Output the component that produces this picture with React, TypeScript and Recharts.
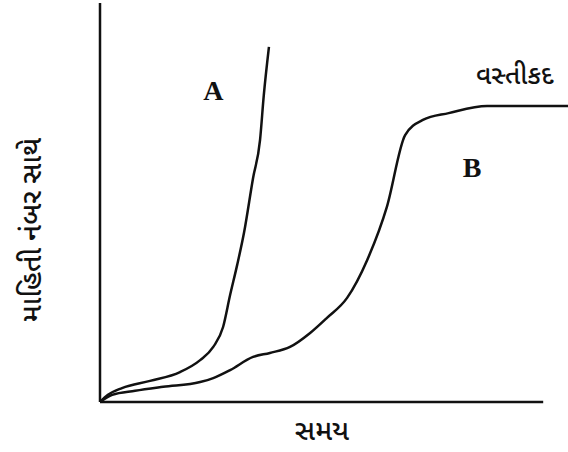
import React from 'react';
import { LineChart, Line, XAxis, YAxis, ReferenceLine, ReferenceDot, Customized } from 'recharts';

// Curve A: exponential (J-shaped) growth
const curveAX = [0, 1.7, 4.7, 10.7, 17.1, 21.4, 24.2, 26.3, 27.8, 29.3, 30.8, 32.7, 34.2, 35.0, 36.1];
const curveAY = [0, 1.8, 3.5, 5.3, 7.5, 10.5, 13.8, 18.8, 26.8, 34.3, 42.6, 56.1, 65.7, 76.9, 89.0];

// Curve B: logistic (S-shaped) growth
const curveBX = [0, 2.6, 7.5, 13.5, 21.4, 24.2, 27.8, 32.7, 36.3, 40.6, 44.9, 48.5, 52.8, 57.1, 61.3, 65.2, 69.0, 74.5, 82.7, 100];
const curveBY = [0, 1.8, 2.8, 3.8, 5.0, 6.0, 8.0, 11.3, 12.3, 13.8, 17.3, 21.1, 26.1, 35.6, 48.9, 66.9, 70.7, 72.4, 74.2, 74.2];

const xAxisEnd = 94.7;
const xTitle = 'સમય';
const yTitle = 'માહિતી નંબર સાથે';
const capacityLabel = 'વસ્તીકદ';

const dataA = curveAX.map((x, i) => ({ x, y: curveAY[i] }));
const dataB = curveBX.map((x, i) => ({ x, y: curveBY[i] }));

const guj = '"Noto Sans Gujarati", "Noto Sans", Lato, sans-serif';
const serif = '"Liberation Serif", "DejaVu Serif", serif';

const Titles = () => (
  <g>
    <text x={322} y={440} textAnchor="middle" fontFamily={guj} fontSize={28} fontWeight={500} fill="#111">{xTitle}</text>
    <text x={34} y={230} textAnchor="middle" dominantBaseline="central" fontFamily={guj} fontSize={28} fontWeight={500} fill="#111" transform="rotate(-90 34 230)">{yTitle}</text>
  </g>
);

export default function App() {
  return (
    <div style={{ position: 'absolute', left: 0, top: 0, background: '#fff' }}>
      <LineChart width={568} height={452} margin={{ top: 3, right: 0, bottom: 50, left: 100 }}>
        <XAxis type="number" dataKey="x" domain={[0, 100]} hide />
        <YAxis type="number" dataKey="y" domain={[0, 100]} hide />
        <ReferenceLine x={0} stroke="#111" strokeWidth={2.5} ifOverflow="visible" />
        <ReferenceLine segment={[{ x: 0, y: 0 }, { x: xAxisEnd, y: 0 }]} stroke="#111" strokeWidth={2.5} ifOverflow="visible" />
        <Line data={dataA} dataKey="y" type="monotone" stroke="#111" strokeWidth={2.5} strokeLinejoin="round" dot={false} isAnimationActive={false} />
        <Line data={dataB} dataKey="y" type="monotone" stroke="#111" strokeWidth={2.5} strokeLinejoin="round" dot={false} isAnimationActive={false} />
        <ReferenceDot x={24.2} y={78.2} r={0} stroke="none" fill="none" label={{ value: 'A', position: 'center', fontFamily: serif, fontWeight: 'bold', fontSize: 28, fill: '#111' }} />
        <ReferenceDot x={79.5} y={58.9} r={0} stroke="none" fill="none" label={{ value: 'B', position: 'center', fontFamily: serif, fontWeight: 'bold', fontSize: 28, fill: '#111' }} />
        <ReferenceDot x={88.6} y={82.0} r={0} stroke="none" fill="none" label={{ value: capacityLabel, position: 'center', fontFamily: guj, fontSize: 26, fontWeight: 500, fill: '#111' }} />
        <Customized component={Titles} />
      </LineChart>
    </div>
  );
}
